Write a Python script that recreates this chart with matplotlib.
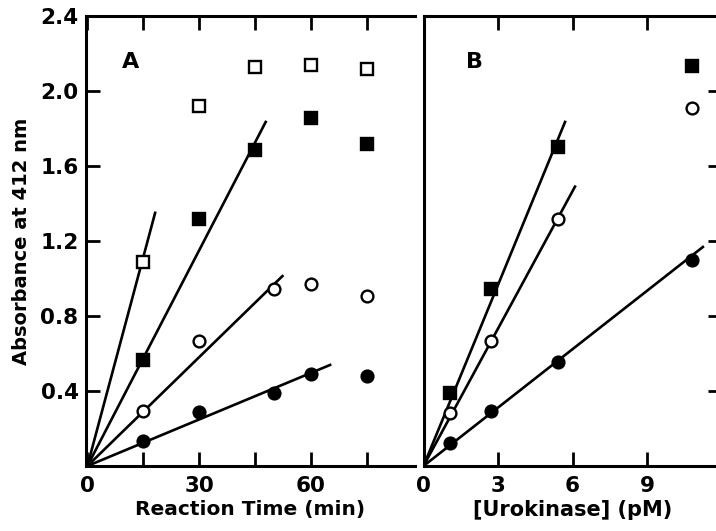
import matplotlib
matplotlib.use('Agg')
import matplotlib.pyplot as plt

plt.rcParams['font.family'] = ['DejaVu Sans']
plt.rcParams['font.weight'] = 'bold'

# panel A: absorbance vs reaction time (min)
time_open_sq = [15, 30, 45, 60, 75]
abs_open_sq = [1.09, 1.92, 2.13, 2.14, 2.12]
time_fill_sq = [15, 30, 45, 60, 75]
abs_fill_sq = [0.565, 1.315, 1.685, 1.855, 1.715]
time_open_ci = [15, 30, 50, 60, 75]
abs_open_ci = [0.295, 0.667, 0.945, 0.97, 0.907]
time_fill_ci = [15, 30, 50, 60, 75]
abs_fill_ci = [0.133, 0.288, 0.39, 0.49, 0.48]
# fitted lines (end points, min / absorbance)
fitA = {'open_sq': ([0, 18.2], [0, 1.35]),
        'fill_sq': ([0, 47.9], [0, 1.835]),
        'open_ci': ([0, 52.4], [0, 1.013]),
        'fill_ci': ([0, 65.2], [0, 0.539])}

# panel B: absorbance vs urokinase (pM)
uk = [1.08, 2.7, 5.4, 10.8]
absB_fill_sq = [0.39, 0.944, 1.70, 2.133]
absB_open_ci = [0.283, 0.667, 1.317, 1.907]
absB_fill_ci = [0.123, 0.293, 0.555, 1.099]
fitB = {'fill_sq': ([0, 5.7], [0, 1.835]),
        'open_ci': ([0, 6.1], [0, 1.49]),
        'fill_ci': ([0, 11.25], [0, 1.168])}

yticks = [0.4, 0.8, 1.2, 1.6, 2.0, 2.4]

W, H = 716, 531
fig = plt.figure(figsize=(W / 100, H / 100), dpi=100)
axA = fig.add_axes([85.5 / W, (H - 466) / H, (415 - 85.5) / W, (466 - 16) / H])
axB = fig.add_axes([423.5 / W, (H - 466) / H, (721.5 - 423.5) / W, (466 - 16) / H])

lw = 1.9
ms = 8.5
mew = 1.7

def marks(ax, x, y, m, filled):
    ax.plot(x, y, linestyle='none', marker=m, markersize=ms if m == 'o' else ms + 0.3,
            markerfacecolor='black' if filled else 'white', markeredgecolor='black',
            markeredgewidth=mew, zorder=3, clip_on=False)

for k, (xs, ys) in fitA.items():
    axA.plot(xs, ys, color='black', lw=lw, zorder=2)
marks(axA, time_open_sq, abs_open_sq, 's', False)
marks(axA, time_fill_sq, abs_fill_sq, 's', True)
marks(axA, time_open_ci, abs_open_ci, 'o', False)
marks(axA, time_fill_ci, abs_fill_ci, 'o', True)

for k, (xs, ys) in fitB.items():
    axB.plot(xs, ys, color='black', lw=lw, zorder=2)
marks(axB, uk, absB_fill_sq, 's', True)
marks(axB, uk, absB_open_ci, 'o', False)
marks(axB, uk, absB_fill_ci, 'o', True)

for ax in (axA, axB):
    ax.set_ylim(0, 2.4)
    for s in ax.spines.values():
        s.set_linewidth(2.2)

axA.set_xlim(-0.5, 88)
axA.spines['right'].set_visible(False)
axA.set_xticks([0, 15, 30, 45, 60, 75])
axA.set_xticklabels(['0', '', '30', '', '60', ''])
axA.set_yticks(yticks)
axA.set_yticklabels(['0.4', '0.8', '1.2', '1.6', '2.0', '2.4'])
axA.tick_params(axis='both', direction='in', length=10, width=2, labelsize=15.5, pad=5,
                top=True)
axA.tick_params(axis='x', pad=7)
axA.set_xlabel('Reaction Time (min)', fontsize=14.5, fontweight='bold', labelpad=3)
axA.set_ylabel('Absorbance at 412 nm', fontsize=14, fontweight='bold', labelpad=7)
axA.text(11.5, 2.155, 'A', fontsize=16, fontweight='bold', ha='center', va='center')

axB.set_xlim(0, 12)
axB.set_xticks([0, 3, 6, 9])
axB.set_yticks(yticks[:-1])
axB.tick_params(axis='both', direction='in', length=10, width=2, labelsize=15.5,
                top=True, left=False, right=True, labelleft=False)
axB.tick_params(axis='x', pad=7)
axB.set_xlabel('[Urokinase] (pM)', fontsize=15, fontweight='bold', labelpad=3)
axB.text(2.05, 2.155, 'B', fontsize=16, fontweight='bold', ha='center', va='center')

fig.savefig('out.png', dpi=100)
